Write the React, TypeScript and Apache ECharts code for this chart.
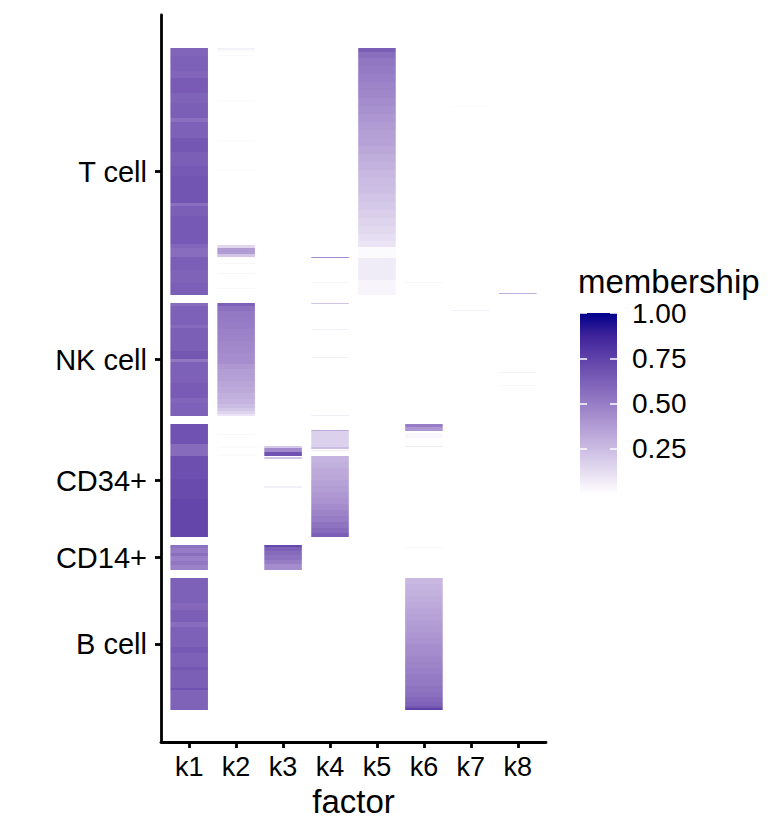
import React, { useEffect, useRef } from "react";
import * as echarts from "echarts";

// ---------- data ----------
const factors = ["k1", "k2", "k3", "k4", "k5", "k6", "k7", "k8"];
const groups = ["T cell", "NK cell", "CD34+", "CD14+", "B cell"];
const groupSizes = [247, 113, 113, 25, 132]; // cells per group
const groupGap = 8;
const membershipTicks = [0.25, 0.5, 0.75, 1];
const legendRange = [0, 1];

// white -> darkblue (Lab interpolated stops)
const palette = ["#FFFFFF", "#E5DDF1", "#CBBCE3", "#B29CD4", "#977DC6", "#7C5FB7", "#5F41A9", "#3E239A", "#00008B"];

// runs: [groupIndex, fromCell, toCell, membership]
const k1Runs = [
  [0, 0, 8, 0.6], [0, 8, 23, 0.62], [0, 23, 30, 0.6], [0, 30, 45, 0.64], [0, 45, 55, 0.61], [0, 55, 70, 0.63],
  [0, 70, 74, 0.56], [0, 74, 90, 0.62], [0, 90, 104, 0.66], [0, 104, 118, 0.63], [0, 118, 128, 0.65],
  [0, 128, 155, 0.67], [0, 155, 158, 0.56], [0, 158, 168, 0.63], [0, 168, 196, 0.65], [0, 196, 200, 0.6],
  [0, 200, 209, 0.57], [0, 209, 222, 0.63], [0, 222, 235, 0.61], [0, 235, 247, 0.63],
  [1, 0, 3, 0.57], [1, 3, 22, 0.62], [1, 22, 25, 0.58], [1, 25, 48, 0.63], [1, 48, 56, 0.66], [1, 56, 59, 0.53],
  [1, 59, 80, 0.62], [1, 80, 95, 0.64], [1, 95, 100, 0.6], [1, 100, 113, 0.62],
  [2, 0, 20, 0.68], [2, 20, 32, 0.58], [2, 32, 55, 0.69], [2, 55, 75, 0.71], [2, 75, 113, 0.73],
  [3, 0, 3, 0.55], [3, 3, 8, 0.51], [3, 8, 11, 0.56], [3, 11, 16, 0.49], [3, 16, 20, 0.53], [3, 20, 25, 0.48],
  [4, 0, 25, 0.62], [4, 25, 32, 0.59], [4, 32, 44, 0.63], [4, 44, 49, 0.57], [4, 49, 69, 0.62], [4, 69, 75, 0.65],
  [4, 75, 89, 0.62], [4, 89, 92, 0.66], [4, 92, 110, 0.63], [4, 110, 112, 0.68], [4, 112, 132, 0.61],
];
const k2Runs = [
  [0, 0, 2, 0.05], [0, 2, 4, 0.02], [0, 7, 8, 0.02], [0, 52, 53, 0.02], [0, 92, 93, 0.02], [0, 122, 123, 0.02],
  [0, 197, 200, 0.15], [0, 200, 206, 0.38], [0, 206, 209, 0.22], [0, 215, 216, 0.03], [0, 225, 226, 0.03], [0, 240, 241, 0.03],
  [1, 0, 3, 0.62], [1, 3, 8, 0.55], [1, 8, 14, 0.52], [1, 14, 20, 0.51], [1, 20, 26, 0.5], [1, 26, 32, 0.48],
  [1, 32, 38, 0.47], [1, 38, 44, 0.46], [1, 44, 50, 0.45], [1, 50, 56, 0.44], [1, 56, 61, 0.43], [1, 61, 66, 0.39],
  [1, 66, 72, 0.37], [1, 72, 78, 0.36], [1, 78, 84, 0.34], [1, 84, 90, 0.32], [1, 90, 96, 0.3], [1, 96, 101, 0.28],
  [1, 101, 105, 0.25], [1, 105, 108, 0.21], [1, 108, 111, 0.16], [1, 111, 113, 0.1],
  [2, 10, 11, 0.03], [2, 22, 24, 0.02], [2, 30, 32, 0.02],
];
const k3Runs = [
  [2, 22, 24, 0.2], [2, 24, 28, 0.45], [2, 28, 32, 0.68], [2, 33, 35, 0.22], [2, 62, 64, 0.06],
  [3, 0, 2, 0.72], [3, 2, 6, 0.62], [3, 6, 10, 0.58], [3, 10, 15, 0.55], [3, 15, 19, 0.5], [3, 19, 25, 0.44],
];
const k4Runs = [
  [0, 209, 210, 0.45], [0, 234, 235, 0.04],
  [1, 0, 1, 0.22], [1, 26, 27, 0.05], [1, 54, 55, 0.06], [1, 112, 113, 0.07],
  [2, 6, 7, 0.32], [2, 7, 23, 0.17], [2, 23, 25, 0.25], [2, 26, 27, 0.08],
  [2, 32, 38, 0.28], [2, 38, 44, 0.3], [2, 44, 50, 0.32], [2, 50, 56, 0.33], [2, 56, 62, 0.35], [2, 62, 68, 0.37],
  [2, 68, 74, 0.39], [2, 74, 80, 0.41], [2, 80, 86, 0.44], [2, 86, 92, 0.47], [2, 92, 98, 0.5], [2, 98, 104, 0.54],
  [2, 104, 109, 0.58], [2, 109, 113, 0.63],
];
const k5Runs = [
  [0, 0, 4, 0.63], [0, 4, 10, 0.56], [0, 10, 18, 0.53], [0, 18, 26, 0.51], [0, 26, 34, 0.49], [0, 34, 42, 0.47],
  [0, 42, 50, 0.46], [0, 50, 58, 0.44], [0, 58, 66, 0.42], [0, 66, 74, 0.4], [0, 74, 82, 0.38], [0, 82, 90, 0.36],
  [0, 90, 98, 0.35], [0, 98, 106, 0.33], [0, 106, 114, 0.31], [0, 114, 122, 0.29], [0, 122, 130, 0.27],
  [0, 130, 138, 0.25], [0, 138, 146, 0.24], [0, 146, 154, 0.22], [0, 154, 162, 0.2], [0, 162, 170, 0.18],
  [0, 170, 178, 0.16], [0, 178, 186, 0.14], [0, 186, 193, 0.12], [0, 193, 199, 0.1],
  [0, 199, 210, 0.02], [0, 210, 232, 0.07], [0, 232, 247, 0.04],
];
const k6Runs = [
  [0, 234, 235, 0.03],
  [2, 0, 3, 0.5], [2, 3, 7, 0.4], [2, 9, 14, 0.03], [2, 22, 23, 0.07],
  [3, 2, 3, 0.03],
  [4, 0, 6, 0.26], [4, 6, 12, 0.28], [4, 12, 18, 0.29], [4, 18, 24, 0.31], [4, 24, 30, 0.32], [4, 30, 36, 0.34],
  [4, 36, 42, 0.35], [4, 42, 48, 0.37], [4, 48, 54, 0.38], [4, 54, 60, 0.4], [4, 60, 66, 0.41], [4, 66, 72, 0.43],
  [4, 72, 78, 0.44], [4, 78, 84, 0.46], [4, 84, 90, 0.47], [4, 90, 96, 0.49], [4, 96, 102, 0.51], [4, 102, 108, 0.52],
  [4, 108, 114, 0.54], [4, 114, 119, 0.56], [4, 119, 124, 0.59], [4, 124, 128, 0.62], [4, 128, 130, 0.66],
  [4, 130, 132, 0.75],
];
const k7Runs = [[0, 58, 59, 0.02], [1, 7, 8, 0.06]];
const k8Runs = [[0, 245, 246, 0.3], [1, 69, 70, 0.05], [1, 82, 83, 0.03]];
const runsByFactor = [k1Runs, k2Runs, k3Runs, k4Runs, k5Runs, k6Runs, k7Runs, k8Runs];

// ---------- derived ----------
const groupStart: number[] = [];
let acc = 0;
groupSizes.forEach((s) => {
  groupStart.push(acc);
  acc += s + groupGap;
});
const totalCells = acc - groupGap;
const groupCenters = groupSizes.map((s, i) => groupStart[i] + s / 2);

const tiles: number[][] = [];
runsByFactor.forEach((runs, fi) =>
  runs.forEach(([g, from, to, v]) => tiles.push([fi, groupStart[g] + from, groupStart[g] + to, v]))
);

const FONT = "'Liberation Sans', Arial, Helvetica, sans-serif";
const TILE_W = 0.8;

export default function App() {
  const ref = useRef<HTMLDivElement>(null);
  useEffect(() => {
    if (!ref.current) return;
    const chart = echarts.init(ref.current, null, { renderer: "svg" });
    const gradStops = palette.map((c, i) => ({ offset: i / (palette.length - 1), color: c }));
    chart.setOption({
      animation: false,
      backgroundColor: "#ffffff",
      textStyle: { fontFamily: FONT },
      title: {
        text: "membership",
        left: 578,
        top: 265,
        padding: 0,
        textStyle: { fontSize: 33, fontWeight: "normal", color: "#000", fontFamily: FONT },
      },
      grid: [
        { left: 161, top: 15, width: 385, height: 727 },
        { left: 580, top: 313, width: 37, height: 181 },
      ],
      xAxis: [
        {
          type: "value",
          gridIndex: 0,
          min: -0.6,
          max: factors.length - 0.4,
          splitLine: { show: false },
          axisLine: { show: true, onZero: false, lineStyle: { color: "#000", width: 2.8 } },
          axisTick: { show: true, length: 6, lineStyle: { color: "#000", width: 2.8 }, customValues: factors.map((_, i) => i) },
          axisLabel: {
            customValues: factors.map((_, i) => i),
            formatter: (v: number) => factors[Math.round(v)] ?? "",
            fontSize: 27,
            color: "#000",
            margin: 11,
            fontFamily: FONT,
          },
          name: "factor",
          nameLocation: "middle",
          nameGap: 43,
          nameTextStyle: { fontSize: 33, color: "#000", fontFamily: FONT },
        },
        { type: "value", gridIndex: 1, min: 0, max: 1, show: false },
      ],
      yAxis: [
        {
          type: "value",
          gridIndex: 0,
          inverse: true,
          min: -33,
          max: totalCells + 32,
          splitLine: { show: false },
          axisLine: { show: true, onZero: false, lineStyle: { color: "#000", width: 2.8 } },
          axisTick: { show: true, length: 6, lineStyle: { color: "#000", width: 2.8 }, customValues: groupCenters },
          axisLabel: {
            customValues: groupCenters,
            formatter: (v: number) => {
              const i = groupCenters.findIndex((c) => Math.abs(c - v) < 1);
              return i >= 0 ? groups[i] : "";
            },
            fontSize: 29,
            color: "#000",
            margin: 14,
            fontFamily: FONT,
          },
        },
        {
          type: "value",
          gridIndex: 1,
          min: legendRange[0],
          max: legendRange[1],
          position: "right",
          z: 10,
          splitLine: { show: false },
          axisLine: { show: false, onZero: false },
          axisTick: { show: true, inside: true, length: 7, lineStyle: { color: "#ffffff", width: 1.5 }, customValues: membershipTicks },
          axisLabel: {
            customValues: membershipTicks,
            formatter: (v: number) => v.toFixed(2),
            fontSize: 28,
            color: "#000",
            margin: 15,
            fontFamily: FONT,
          },
        },
        {
          type: "value",
          gridIndex: 1,
          min: legendRange[0],
          max: legendRange[1],
          position: "left",
          z: 10,
          splitLine: { show: false },
          axisLine: { show: false, onZero: false },
          axisTick: { show: true, inside: true, length: 7, lineStyle: { color: "#ffffff", width: 1.5 }, customValues: membershipTicks },
          axisLabel: { show: false },
        },
      ],
      visualMap: [
        {
          type: "continuous",
          show: false,
          seriesIndex: 0,
          dimension: 3,
          min: 0,
          max: 1,
          inRange: { color: palette },
        },
      ],
      series: [
        {
          type: "custom",
          xAxisIndex: 0,
          yAxisIndex: 0,
          encode: { x: [0], y: [1, 2] },
          data: tiles,
          renderItem: (params: any, api: any) => {
            const c = api.value(0);
            const p0 = api.coord([c - TILE_W / 2, api.value(1)]);
            const p1 = api.coord([c + TILE_W / 2, api.value(2)]);
            return {
              type: "rect",
              shape: {
                x: p0[0],
                y: Math.min(p0[1], p1[1]),
                width: p1[0] - p0[0],
                height: Math.abs(p1[1] - p0[1]),
              },
              style: { fill: api.visual("color") },
            };
          },
        },
        {
          type: "custom",
          xAxisIndex: 1,
          yAxisIndex: 1,
          data: [[legendRange[0], legendRange[1]]],
          renderItem: (params: any, api: any) => {
            const p0 = api.coord([0, api.value(1)]);
            const p1 = api.coord([1, api.value(0)]);
            return {
              type: "rect",
              shape: { x: p0[0], y: p0[1], width: p1[0] - p0[0], height: p1[1] - p0[1] },
              style: { fill: new echarts.graphic.LinearGradient(0, 1, 0, 0, gradStops) },
            };
          },
        },
      ],
    });
    return () => chart.dispose();
  }, []);
  return <div ref={ref} style={{ position: "absolute", left: 0, top: 0, width: 780, height: 840 }} />;
}
